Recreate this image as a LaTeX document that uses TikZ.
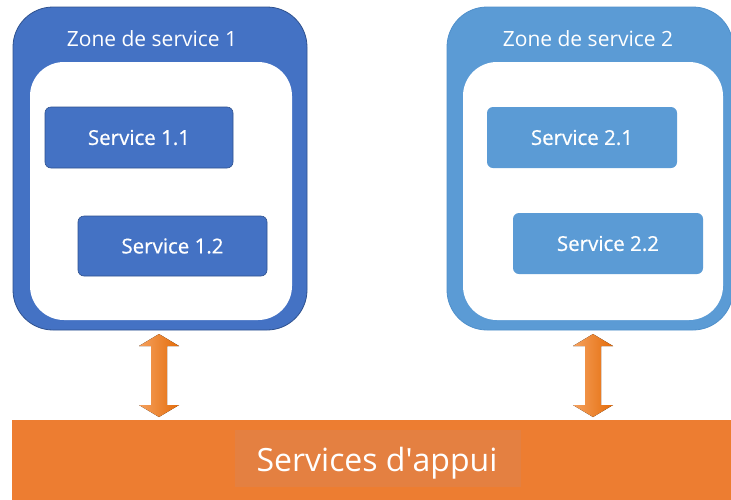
\documentclass[tikz,border=0pt]{standalone}
\usepackage{fontspec}
\setmainfont{Open Sans}
\newfontfamily\svcfont[FakeBold=0.6]{Open Sans}
\usetikzlibrary{calc}
\definecolor{zoneA}{HTML}{4472C4}
\definecolor{zoneAline}{HTML}{2F528F}
\definecolor{zoneB}{HTML}{5B9BD5}
\definecolor{zoneBline}{HTML}{5090CB}
\definecolor{barorange}{HTML}{ED7D31}
\definecolor{labelorange}{HTML}{E48041}
\definecolor{arrlight}{HTML}{F5A15E}
\definecolor{arrdark}{HTML}{E46C0A}
\tikzset{
  zonebox/.style={rounded corners=40pt, inner sep=0pt, line width=0.8pt},
  innerbox/.style={rounded corners=34pt, fill=white, draw=none, inner sep=0pt},
  svcbox/.style={rounded corners=6pt, inner sep=0pt, text=white, font=\svcfont\fontsize{20.5}{24}\selectfont, line width=0.6pt},
  ztitle/.style={text=white, font=\fontsize{21}{24}\selectfont, inner sep=0pt},
}
\newcommand\dblarrow[2]{%
  \fill[left color=arrlight, right color=arrdark]
    ($(#1)+(-8,12)$) -- ($(#1)+(-20,12)$) -- (#1) -- ($(#1)+(20,12)$) -- ($(#1)+(8,12)$)
    -- ($(#2)+(8,-12)$) -- ($(#2)+(20,-12)$) -- (#2) -- ($(#2)+(-20,-12)$) -- ($(#2)+(-8,-12)$) -- cycle;}
\begin{document}
\begin{tikzpicture}[x=1pt,y=-1pt]
\useasboundingbox (0,0) rectangle (731,499);
\fill[white] (0,0) rectangle (731,499);
% zone 1
\node[zonebox, fill=zoneA, draw=zoneAline, minimum width=294pt, minimum height=323pt] (zone1) at (160,168.5) {};
\node[innerbox, minimum width=262pt, minimum height=258pt] (in1) at (161,191) {};
\node[ztitle] (t1) at (152,39) {Zone de service 1};
\node[svcbox, fill=zoneA, draw=zoneAline, minimum width=188pt, minimum height=61pt] (s11) at (139,137.5) {Service 1.1};
\node[svcbox, fill=zoneA, draw=zoneAline, minimum width=189pt, minimum height=60pt] (s12) at (172.5,246) {Service 1.2};
% zone 2
\node[zonebox, fill=zoneB, draw=zoneBline, minimum width=286pt, minimum height=323pt] (zone2) at (590,168.5) {};
\node[innerbox, minimum width=260pt, minimum height=258pt] (in2) at (593,191) {};
\node[ztitle] (t2) at (588,39) {Zone de service 2};
\node[svcbox, fill=zoneB, minimum width=190pt, minimum height=61pt] (s21) at (582,137.5) {Service 2.1};
\node[svcbox, fill=zoneB, minimum width=190pt, minimum height=61pt] (s22) at (608,243.5) {Service 2.2};
% support bar
\node[fill=barorange, inner sep=0pt, minimum width=730pt, minimum height=90pt] (bar) at (377,465) {};
\node[fill=labelorange, inner sep=0pt, minimum width=286pt, minimum height=57pt] (lab) at (378,458.5) {};
\node[text=white, font=\fontsize{32}{36}\selectfont, inner sep=0pt] (labt) at (377,463) {Services d\textquotesingle appui};
% arrows
\coordinate (a1t) at (159,334);
\coordinate (a1b) at (159,417);
\coordinate (a2t) at (593,334);
\coordinate (a2b) at (593,417);
\dblarrow{a1t}{a1b}
\dblarrow{a2t}{a2b}
\end{tikzpicture}
\end{document}
